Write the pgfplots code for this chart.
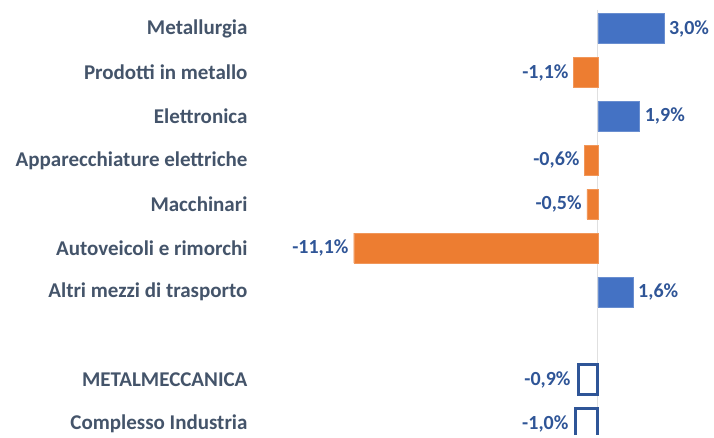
\documentclass[border=0pt]{standalone}
\usepackage{pgfplots}
\pgfplotsset{compat=1.18}
\usepackage{fontspec}
\setmainfont{Carlito}
\definecolor{barblue}{HTML}{4472C4}
\definecolor{barorange}{HTML}{ED7D31}
\definecolor{valblue}{HTML}{2F5597}
\definecolor{catgray}{HTML}{44546A}
\begin{document}
\begin{tikzpicture}
\begin{axis}[
    width=714pt, height=435pt, scale only axis,
    xbar, bar width=0.68, bar shift=0pt,
    xmin=-27.18, xmax=5.27,
    ymin=-0.65, ymax=9.25, y dir=reverse,
    xtick=\empty,
    ytick={0,1,2,3,4,5,6,8,9},
    yticklabels={Metallurgia, Prodotti in metallo, Elettronica,
        Apparecchiature elettriche\ , Macchinari, Autoveicoli e rimorchi,
        Altri mezzi di trasporto, METALMECCANICA, Complesso Industria},
    yticklabel style={anchor=east, xshift=251pt, text=catgray,
        font=\fontsize{21}{24}\selectfont\bfseries},
    major tick length=0pt,
    axis line style={draw=none},
    point meta=explicit symbolic,
    nodes near coords,
    nodes near coords style={text=valblue, inner sep=5pt,
        font=\fontsize{20}{24}\selectfont\bfseries},
]
\draw[black!12, line width=1pt] (axis cs:0,-0.43) -- (axis cs:0,9.3);
% positive sectors
\addplot[fill=barblue, draw=barblue!80!white,
    every node near coord/.append style={anchor=west}] coordinates {
    (3.0,0) [3,0\%] (1.9,2) [1,9\%] (1.6,6) [1,6\%]
};
% negative sectors
\addplot[fill=barorange, draw=barorange!80!white,
    every node near coord/.append style={anchor=east}] coordinates {
    (-1.1,1) [-1,1\%] (-0.6,3) [-0,6\%] (-0.5,4) [-0,5\%] (-11.1,5) [-11,1\%]
};
% totals
\addplot[fill=white, draw=valblue, line width=3pt,
    every node near coord/.append style={anchor=east, xshift=-1pt}] coordinates {
    (-0.9,8) [-0,9\%] (-1.0,9) [-1,0\%]
};
\end{axis}
\end{tikzpicture}
\end{document}
